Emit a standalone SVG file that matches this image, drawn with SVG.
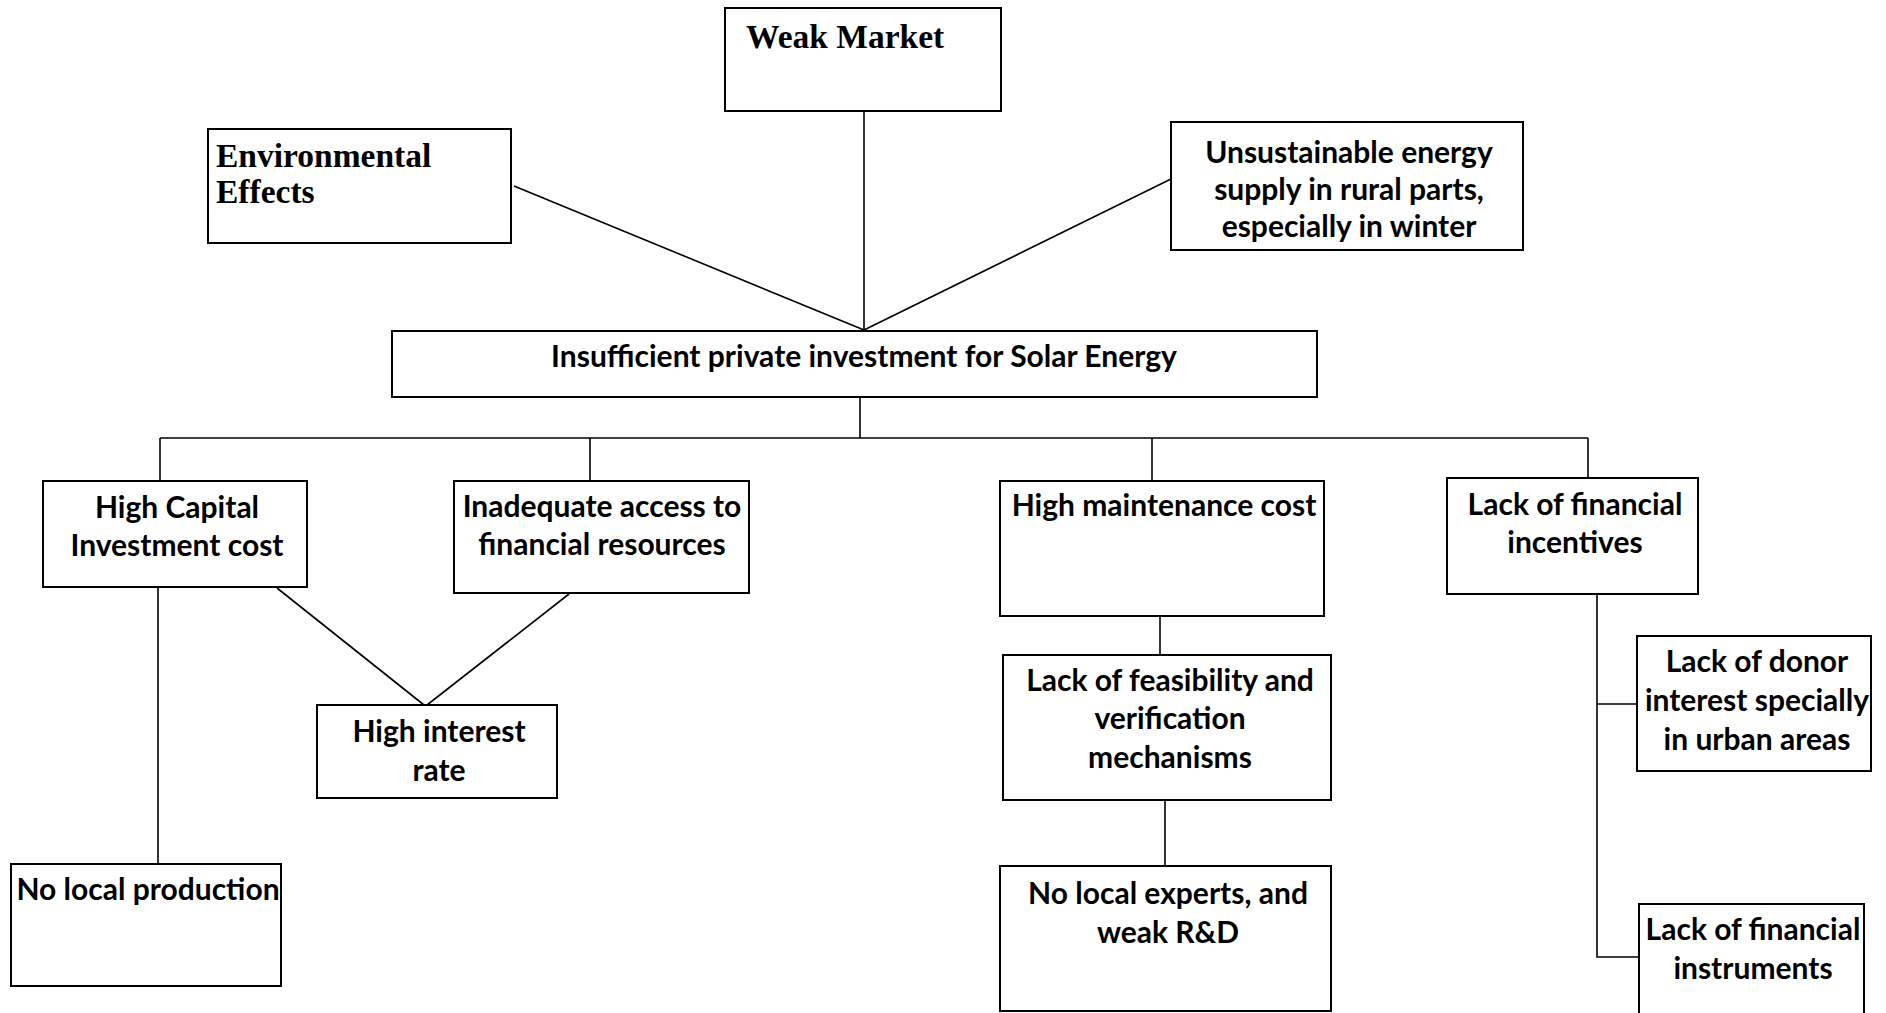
<svg xmlns="http://www.w3.org/2000/svg" width="1886" height="1013" viewBox="0 0 1886 1013">
<style>
.box{fill:#fff;stroke:#000;stroke-width:2}
.t{font-family:Lato,"Liberation Sans",sans-serif;font-weight:bold;font-size:30px;fill:#000;text-anchor:middle}
.s{font-family:"Liberation Serif",serif;font-weight:bold;font-size:33.5px;fill:#000}
.ln{stroke:#000;stroke-width:1.6;fill:none}
</style>
<rect width="1886" height="1013" fill="#fff"/>
<g id="connectors">
<line class="ln" x1="514" y1="186" x2="864" y2="330"/>
<line class="ln" x1="864" y1="111" x2="864" y2="330"/>
<line class="ln" x1="1171" y1="179" x2="864" y2="330"/>
<line class="ln" x1="860" y1="397" x2="860" y2="438"/>
<line class="ln" x1="160" y1="438" x2="1588" y2="438"/>
<line class="ln" x1="160" y1="438" x2="160" y2="481"/>
<line class="ln" x1="590" y1="438" x2="590" y2="481"/>
<line class="ln" x1="1152" y1="438" x2="1152" y2="481"/>
<line class="ln" x1="1588" y1="438" x2="1588" y2="478"/>
<line class="ln" x1="277" y1="588" x2="424" y2="705"/>
<line class="ln" x1="569" y1="594" x2="427" y2="705"/>
<line class="ln" x1="158" y1="587" x2="158" y2="864"/>
<line class="ln" x1="1160" y1="616" x2="1160" y2="655"/>
<line class="ln" x1="1165" y1="800" x2="1165" y2="866"/>
<polyline class="ln" points="1597,594 1597,957 1639,957"/>
<line class="ln" x1="1597" y1="704" x2="1637" y2="704"/>
</g>
<g id="weak-market">
<rect class="box" x="725" y="8" width="276" height="103"/>
<text class="s" x="746" y="48">Weak Market</text>
</g>
<g id="environmental-effects">
<rect class="box" x="208" y="129" width="303" height="114"/>
<text class="s" x="216" y="167">Environmental</text>
<text class="s" x="216" y="203">Effects</text>
</g>
<g id="unsustainable-energy">
<rect class="box" x="1171" y="122" width="352" height="128"/>
<text class="t" x="1349" y="163">Unsustainable energy</text>
<text class="t" x="1349" y="200">supply in rural parts,</text>
<text class="t" x="1349" y="237">especially in winter</text>
</g>
<g id="insufficient-investment">
<rect class="box" x="392" y="331" width="925" height="66"/>
<text class="t" x="864" y="367">Insufficient private investment for Solar Energy</text>
</g>
<g id="high-capital">
<rect class="box" x="43" y="481" width="264" height="106"/>
<text class="t" x="177" y="518">High Capital</text>
<text class="t" x="177" y="556">Investment cost</text>
</g>
<g id="inadequate-access">
<rect class="box" x="454" y="481" width="295" height="112"/>
<text class="t" x="602" y="517">Inadequate access to</text>
<text class="t" x="602" y="555">financial resources</text>
</g>
<g id="high-interest">
<rect class="box" x="317" y="705" width="240" height="93"/>
<text class="t" x="439" y="742">High interest</text>
<text class="t" x="439" y="781">rate</text>
</g>
<g id="no-local-production">
<rect class="box" x="11" y="864" width="270" height="122"/>
<text class="t" x="148" y="900">No local production</text>
</g>
<g id="high-maintenance">
<rect class="box" x="1000" y="481" width="324" height="135"/>
<text class="t" x="1164" y="516">High maintenance cost</text>
</g>
<g id="lack-feasibility">
<rect class="box" x="1003" y="655" width="328" height="145"/>
<text class="t" x="1170" y="691">Lack of feasibility and</text>
<text class="t" x="1170" y="729">verification</text>
<text class="t" x="1170" y="768">mechanisms</text>
</g>
<g id="no-local-experts">
<rect class="box" x="1000" y="866" width="331" height="145"/>
<text class="t" x="1168" y="904">No local experts, and</text>
<text class="t" x="1168" y="943">weak R&amp;D</text>
</g>
<g id="lack-financial-incentives">
<rect class="box" x="1447" y="478" width="251" height="116"/>
<text class="t" x="1575" y="515">Lack of financial</text>
<text class="t" x="1575" y="553">incentives</text>
</g>
<g id="lack-donor-interest">
<rect class="box" x="1637" y="636" width="234" height="135"/>
<text class="t" x="1757" y="672">Lack of donor</text>
<text class="t" x="1757" y="711">interest specially</text>
<text class="t" x="1757" y="750">in urban areas</text>
</g>
<g id="lack-financial-instruments">
<rect class="box" x="1639" y="904" width="225" height="115"/>
<text class="t" x="1753" y="940">Lack of financial</text>
<text class="t" x="1753" y="979">instruments</text>
</g>
</svg>
